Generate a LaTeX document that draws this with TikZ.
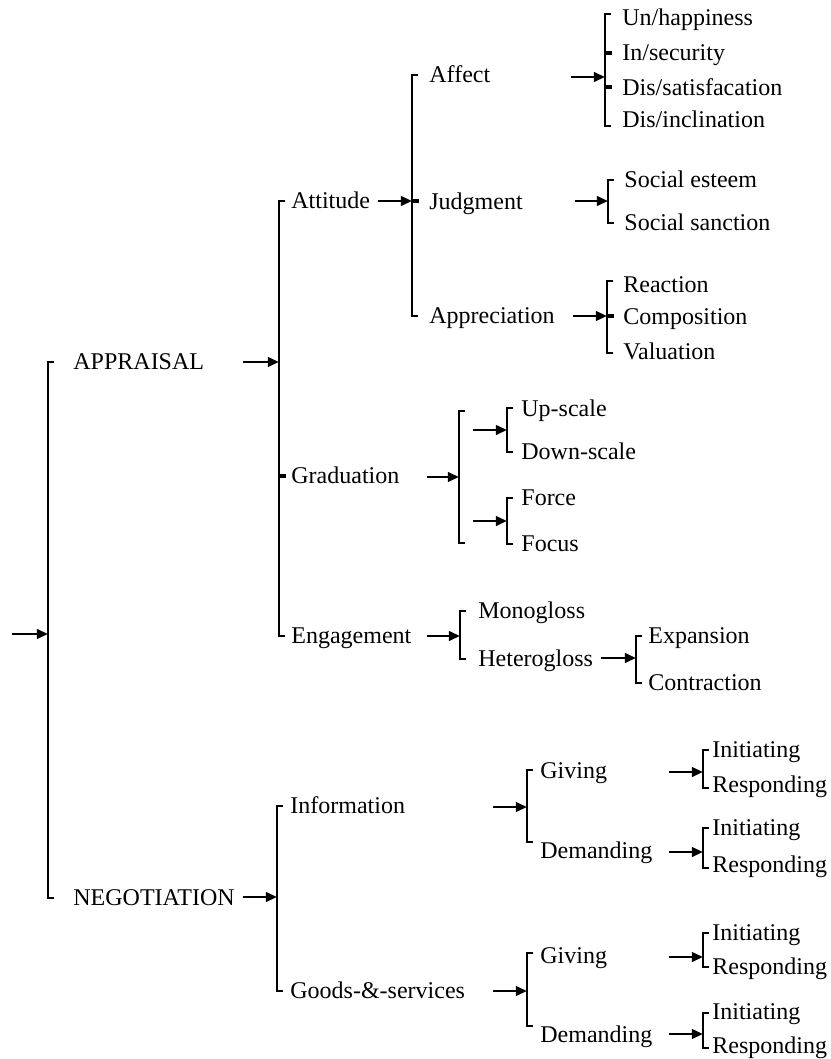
\documentclass[tikz,border=0pt]{standalone}
\usepackage{fontspec}
\setmainfont{Liberation Serif}
\usetikzlibrary{arrows.meta}

% [-shaped bracket: x, top y, bottom y (pixel units, y downwards)
\newcommand{\bracketat}[4][]{%
  \draw[brk,#1] ({#2+6},#3) -- (#2,#3) -- (#2,#4) -- ({#2+6},#4);}
% short thick tick on a bracket
\newcommand{\midtickat}[2]{\draw[tickmark] (#1,#2) -- ({#1+7},#2);}

\tikzset{
  brk/.style={line width=1.25pt, line join=miter},
  tickmark/.style={line width=2.1pt},
  arr/.style={line width=1.25pt, -{Triangle[length=5.6pt,width=4.8pt]}},
  lbl/.style={anchor=west, inner sep=0pt, text height=0.66em, text depth=0pt,
              font=\fontsize{12}{14}\selectfont}
}

\begin{document}
\begin{tikzpicture}[x=0.5pt, y=-0.5pt]
\useasboundingbox (0,0) rectangle (830,1059);

% ---- root ----
\coordinate (in) at (12,634);
\coordinate (rootm) at (48,634);
\bracketat{48}{362}{898}
\draw[arr] (in) -- (rootm);
\node[lbl] (appraisal) at (73,363) {APPRAISAL};
\node[lbl] (negotiation) at (73,899) {NEGOTIATION};

% ---- APPRAISAL ----
\coordinate (appA) at (243,362);
\coordinate (appB) at (279,362);
\draw[arr] (appA) -- (appB);
\bracketat{279}{201}{636}
\midtickat{279}{476}
\node[lbl] (attitude) at (291,202) {Attitude};
\node[lbl] (graduation) at (291,477) {Graduation};
\node[lbl] (engagement) at (291,637) {Engagement};

% Attitude
\coordinate (attA) at (378,201);
\coordinate (attB) at (412,201);
\draw[arr] (attA) -- (attB);
\bracketat{412}{75}{316}
\midtickat{412}{201}
\node[lbl] (affect) at (429,76) {Affect};
\node[lbl] (judgment) at (429,203) {Judgment};
\node[lbl] (appreciation) at (429,317) {Appreciation};

% Affect
\coordinate (affA) at (571,77);
\coordinate (affB) at (605,77);
\draw[arr] (affA) -- (affB);
\bracketat{605}{14}{126}
\midtickat{605}{53}
\midtickat{605}{87}
\node[lbl] (unhap) at (622,19) {Un/happiness};
\node[lbl] (insec) at (622,54) {In/security};
\node[lbl] (dissat) at (622,89) {Dis/satisfacation};
\node[lbl] (disinc) at (622,121) {Dis/inclination};

% Judgment
\coordinate (judA) at (575,201);
\coordinate (judB) at (608,201);
\draw[arr] (judA) -- (judB);
\bracketat{608}{180}{223}
\node[lbl] (esteem) at (624,181) {Social esteem};
\node[lbl] (sanction) at (624,224) {Social sanction};

% Appreciation
\coordinate (aprA) at (573,316);
\coordinate (aprB) at (607,316);
\draw[arr] (aprA) -- (aprB);
\bracketat{607}{281}{353}
\midtickat{607}{316}
\node[lbl] (reaction) at (623,286) {Reaction};
\node[lbl] (composition) at (623,318) {Composition};
\node[lbl] (valuation) at (623,353) {Valuation};

% Graduation
\coordinate (grA) at (427,477);
\coordinate (grB) at (459,477);
\draw[arr] (grA) -- (grB);
\bracketat{459}{411}{543}
\coordinate (gr1A) at (473,430);
\coordinate (gr1B) at (507,430);
\draw[arr] (gr1A) -- (gr1B);
\bracketat{507}{408}{452}
\node[lbl] (upscale) at (521,410) {Up-scale};
\node[lbl] (downscale) at (521,453) {Down-scale};
\coordinate (gr2A) at (473,521);
\coordinate (gr2B) at (507,521);
\draw[arr] (gr2A) -- (gr2B);
\bracketat{507}{498}{544}
\node[lbl] (force) at (521,499) {Force};
\node[lbl] (focus) at (521,545) {Focus};

% Engagement
\coordinate (enA) at (427,636);
\coordinate (enB) at (460,636);
\draw[arr] (enA) -- (enB);
\bracketat{460}{611}{659}
\node[lbl] (mono) at (478,612) {Monogloss};
\node[lbl] (hetero) at (478,660) {Heterogloss};
\coordinate (heA) at (601,658);
\coordinate (heB) at (636,658);
\draw[arr] (heA) -- (heB);
\bracketat{636}{636}{683}
\node[lbl] (expansion) at (648,637) {Expansion};
\node[lbl] (contraction) at (648,684) {Contraction};

% ---- NEGOTIATION ----
\coordinate (negA) at (243,897);
\coordinate (negB) at (277,897);
\draw[arr] (negA) -- (negB);
\bracketat{277}{806}{991}
\node[lbl] (information) at (290,807) {Information};
\node[lbl] (goods) at (290,992) {Goods-\&-services};

% Information
\coordinate (infA) at (493,807);
\coordinate (infB) at (527,807);
\draw[arr] (infA) -- (infB);
\bracketat{527}{770}{842}
\node[lbl] (igiv) at (540,772) {Giving};
\node[lbl] (idem) at (540,852) {Demanding};

\coordinate (igA) at (669,772);
\coordinate (igB) at (703,772);
\draw[arr] (igA) -- (igB);
\bracketat{703}{750}{788}
\node[lbl] (igini) at (712,751) {Initiating};
\node[lbl] (igres) at (712,786) {Responding};

\coordinate (idA) at (669,852);
\coordinate (idB) at (703,852);
\draw[arr] (idA) -- (idB);
\bracketat{703}{828}{868}
\node[lbl] (idini) at (712,829) {Initiating};
\node[lbl] (idres) at (712,866) {Responding};

% Goods-&-services
\coordinate (gsA) at (493,991);
\coordinate (gsB) at (527,991);
\draw[arr] (gsA) -- (gsB);
\bracketat{527}{953}{1026}
\node[lbl] (ggiv) at (540,957) {Giving};
\node[lbl] (gdem) at (540,1036) {Demanding};

\coordinate (ggA) at (669,957);
\coordinate (ggB) at (703,957);
\draw[arr] (ggA) -- (ggB);
\bracketat{703}{933}{967}
\node[lbl] (ggini) at (712,934) {Initiating};
\node[lbl] (ggres) at (712,968) {Responding};

\coordinate (gdA) at (669,1034);
\coordinate (gdB) at (703,1034);
\draw[arr] (gdA) -- (gdB);
\bracketat{703}{1013}{1048}
\node[lbl] (gdini) at (712,1013) {Initiating};
\node[lbl] (gdres) at (712,1047) {Responding};
\end{tikzpicture}
\end{document}
